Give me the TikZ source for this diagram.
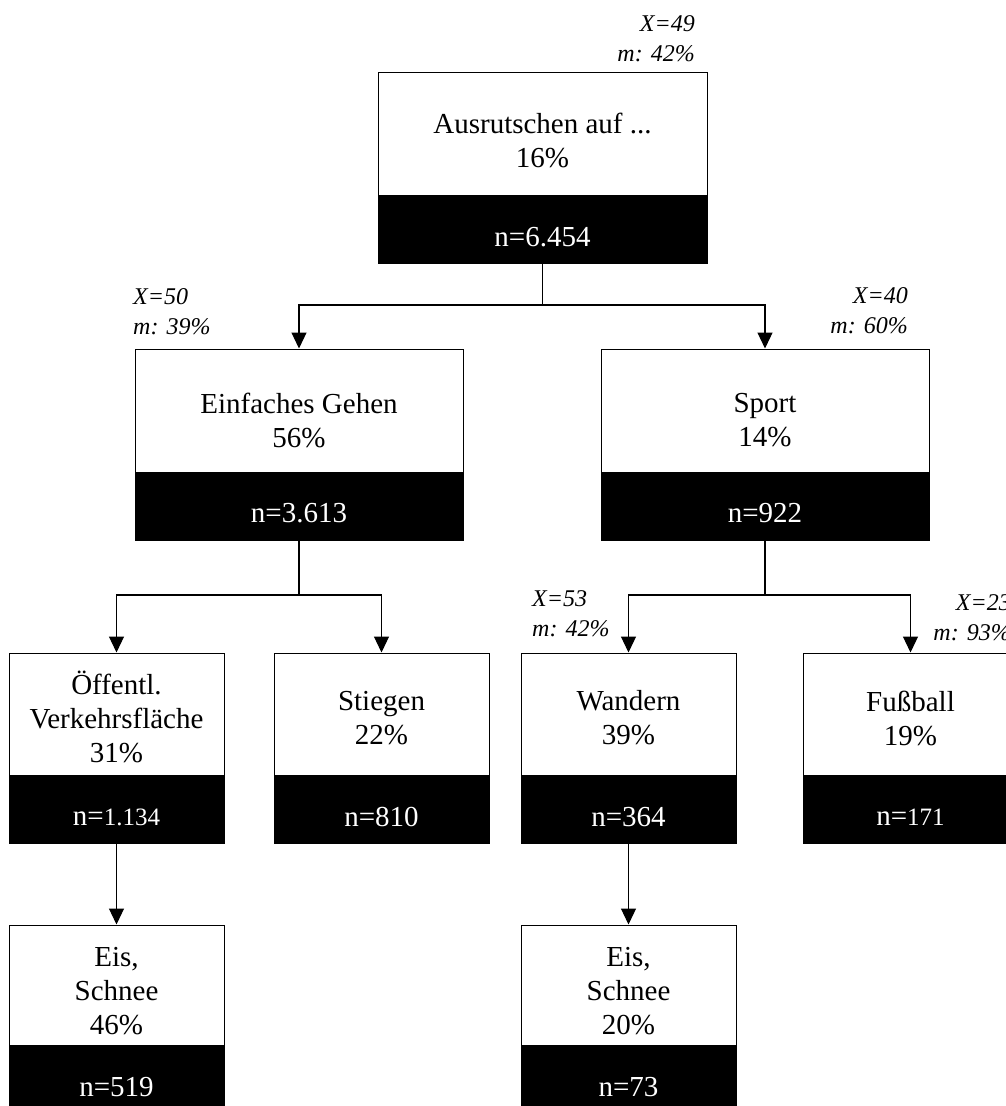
\documentclass[tikz,border=0pt]{standalone}
\usepackage{fontspec}
\setmainfont{Liberation Serif}
\usetikzlibrary{arrows.meta}
\tikzset{
  wbox/.style={draw=black, fill=white, line width=1pt, inner sep=0pt},
  bbox/.style={draw=black, fill=black, line width=1pt, inner sep=0pt},
  txt/.style={inner sep=0pt, align=center, font=\fontsize{29}{34}\selectfont},
  ntxt/.style={inner sep=0pt, text=white, font=\fontsize{29}{34}\selectfont},
  itl/.style={inner sep=0pt, font=\fontsize{24}{30}\selectfont\itshape},
  conn/.style={line width=1.2pt},
  arr/.style={line width=1.2pt, -{Triangle[width=15pt,length=16pt]}}
}
\newcommand{\sm}[1]{{\fontsize{25}{30}\selectfont #1}}
\begin{document}
\begin{tikzpicture}[x=1pt,y=-1pt]
\useasboundingbox (0,0) rectangle (1006,1106);
\begin{scope}
\clip (0,0) rectangle (1006,1106);
% level 1
\node[wbox, minimum width=329pt, minimum height=123pt] (top) at (542.5,133.5) {};
\node[bbox, minimum width=329pt, minimum height=68pt] (topn) at (542.5,229) {};
\node[txt] (toptx) at (542.5,140) {Ausrutschen auf ...\\16\%};
\node[ntxt] (topnt) at (542.5,237) {n=6.454};
\node[itl, anchor=east, align=right] (toplb) at (695,38.5) {X=49\\m: 42\%};
% level 2
\node[wbox, minimum width=328pt, minimum height=123pt] (ein) at (299,410.5) {};
\node[bbox, minimum width=328pt, minimum height=68pt] (einn) at (299,506) {};
\node[txt] (eintx) at (299,420) {Einfaches Gehen\\56\%};
\node[ntxt] (einnt) at (299,513) {n=3.613};
\node[itl, anchor=west, align=left] (einlb) at (133,312) {X=50\\m: 39\%};
\node[wbox, minimum width=328pt, minimum height=123pt] (sport) at (765,410.5) {};
\node[bbox, minimum width=328pt, minimum height=68pt] (sportn) at (765,506) {};
\node[txt] (sporttx) at (765,420) {Sport\\14\%};
\node[ntxt] (sportnt) at (765,513) {n=922};
\node[itl, anchor=east, align=right] (sportlb) at (908,311) {X=40\\m: 60\%};
% level 3
\node[wbox, minimum width=215pt, minimum height=122pt] (oeff) at (116.5,714) {};
\node[bbox, minimum width=215pt, minimum height=68pt] (oeffn) at (116.5,809) {};
\node[txt] (oefftx) at (116.5,716.5) {Öffentl.\\Verkehrsfläche\\31\%};
\node[ntxt] (oeffnt) at (116.5,817) {n=\sm{1.134}};
\node[wbox, minimum width=215pt, minimum height=122pt] (stieg) at (381.5,714) {};
\node[bbox, minimum width=215pt, minimum height=68pt] (stiegn) at (381.5,809) {};
\node[txt] (stiegtx) at (381.5,718) {Stiegen\\22\%};
\node[ntxt] (stiegnt) at (381.5,817) {n=810};
\node[wbox, minimum width=215pt, minimum height=122pt] (wand) at (628.5,714) {};
\node[bbox, minimum width=215pt, minimum height=68pt] (wandn) at (628.5,809) {};
\node[txt] (wandtx) at (628.5,718) {Wandern\\39\%};
\node[ntxt] (wandnt) at (628.5,817) {n=364};
\node[itl, anchor=west, align=left] (wandlb) at (532,614) {X=53\\m: 42\%};
\node[wbox, minimum width=215pt, minimum height=122pt] (fuss) at (910.5,714) {};
\node[bbox, minimum width=215pt, minimum height=68pt] (fussn) at (910.5,809) {};
\node[txt] (fusstx) at (910.5,718) {Fußball\\19\%};
\node[ntxt] (fussnt) at (910.5,817) {n=\sm{171}};
\node[itl, anchor=east, align=right] (fusslb) at (1011,618) {X=23\\m: 93\%};
% level 4
\node[wbox, minimum width=215pt, minimum height=120pt] (eisa) at (116.5,985) {};
\node[bbox, minimum width=215pt, minimum height=67pt] (eisan) at (116.5,1078.5) {};
\node[txt] (eisatx) at (116.5,991) {Eis,\\Schnee\\46\%};
\node[ntxt] (eisant) at (116.5,1087) {n=519};
\node[wbox, minimum width=215pt, minimum height=120pt] (eisb) at (628.5,985) {};
\node[bbox, minimum width=215pt, minimum height=67pt] (eisbn) at (628.5,1078.5) {};
\node[txt] (eisbtx) at (628.5,991) {Eis,\\Schnee\\20\%};
\node[ntxt] (eisbnt) at (628.5,1087) {n=73};
% connectors
\coordinate (j1) at (542.5,305);
\coordinate (j2) at (299,595);
\coordinate (j3) at (765,595);
\draw[conn] (topn.south) -- (j1);
\draw[arr] (j1) -| (ein.north);
\draw[arr] (j1) -| (sport.north);
\draw[conn] (einn.south) -- (j2);
\draw[arr] (j2) -| (oeff.north);
\draw[arr] (j2) -| (stieg.north);
\draw[conn] (sportn.south) -- (j3);
\draw[arr] (j3) -| (wand.north);
\draw[arr] (j3) -| (fuss.north);
\draw[arr] (oeffn.south) -- (eisa.north);
\draw[arr] (wandn.south) -- (eisb.north);
\end{scope}
\end{tikzpicture}
\end{document}
